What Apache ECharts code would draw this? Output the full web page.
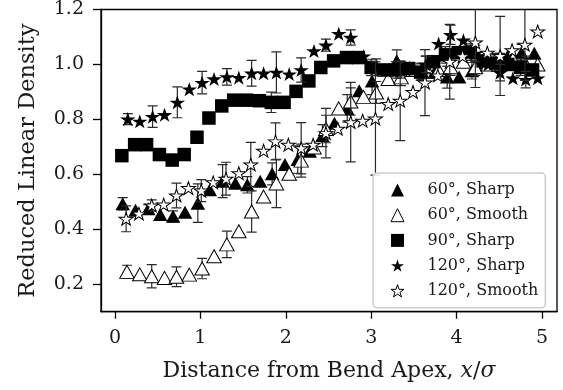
<!DOCTYPE html>
<html><head><meta charset="utf-8">
<script src="https://cdn.jsdelivr.net/npm/echarts@6/dist/echarts.min.js"></script>
<style>html,body{margin:0;padding:0;background:#fff}#c{width:563px;height:390px}</style>
</head><body><div id="c"></div>
<script>
const xTicks = [0, 1, 2, 3, 4, 5];
const yTicks = [0.2, 0.4, 0.6, 0.8, 1.0, 1.2];
const names = ['60°, Sharp', '60°, Smooth', '90°, Sharp', '120°, Sharp', '120°, Smooth'];

const x60Sharp = [0.09,0.24,0.39,0.53,0.68,0.82,0.97,1.11,1.26,1.41,1.55,1.70,1.84,1.99,2.14,2.28,2.43,2.57,2.72,2.86,3.01,3.16,3.30,3.45,3.59,3.74,3.89,4.03,4.18,4.32,4.47,4.61,4.76,4.91];
const y60Sharp = [0.493,0.469,0.475,0.454,0.447,0.462,0.495,0.544,0.575,0.568,0.562,0.575,0.602,0.636,0.654,0.684,0.741,0.786,0.840,0.904,0.940,0.980,1.013,0.990,0.975,0.971,0.954,0.954,0.977,1.005,1.010,1.037,1.043,1.041];
const e60Sharp = [0.022,0,0.015,0,0.02,0,0.07,0,0.06,0,0.03,0,0.04,0,0.05,0,0.04,0,0.05,0,0.05,0,0.04,0,0.03,0,0.04,0,0.03,0,0.03,0,0.03,0];

const x60Smooth = [0.14,0.29,0.43,0.58,0.72,0.87,1.02,1.16,1.31,1.45,1.60,1.74,1.89,2.04,2.18,2.33,2.47,2.62,2.76,2.91,3.06,3.20,3.35,3.49,3.64,3.79,3.93,4.08,4.22,4.37,4.51,4.66,4.81,4.95];
const y60Smooth = [0.245,0.236,0.229,0.223,0.227,0.235,0.257,0.302,0.345,0.393,0.465,0.519,0.567,0.602,0.650,0.698,0.765,0.840,0.865,0.882,0.898,0.947,0.953,0.980,0.990,0.980,0.990,1.010,0.990,1.000,1.010,1.020,1.000,1.000];
const e60Smooth = [0.024,0,0.042,0,0.036,0,0.037,0,0.048,0,0.075,0,0.088,0,0.06,0,0.05,0,0.05,0,0.04,0,0.03,0,0.04,0,0.03,0,0.03,0,0.03,0,0.03,0];

const x90Sharp = [0.08,0.23,0.37,0.52,0.67,0.81,0.96,1.10,1.25,1.39,1.54,1.69,1.83,1.98,2.12,2.27,2.41,2.56,2.71,2.85,3.00,3.14,3.29,3.44,3.58,3.73,3.87,4.02,4.16,4.31,4.46,4.60,4.75,4.89];
const y90Sharp = [0.668,0.708,0.708,0.672,0.652,0.672,0.735,0.805,0.849,0.870,0.870,0.868,0.862,0.862,0.902,0.940,0.989,1.013,1.025,1.025,0.989,0.980,0.980,0.985,0.972,1.010,1.035,1.043,1.045,1.013,1.005,1.000,0.990,0.980];
const e90Sharp = [0.01,0,0.01,0,0.01,0,0.01,0,0.015,0,0.02,0,0.037,0,0.02,0,0.02,0,0.02,0,0.03,0,0.03,0,0.03,0,0.03,0,0.03,0,0.03,0,0.03,0];

const x120Sharp = [0.15,0.29,0.44,0.58,0.73,0.87,1.02,1.16,1.31,1.45,1.60,1.74,1.89,2.04,2.18,2.33,2.47,2.62,2.76,2.91,3.06,3.20,3.35,3.49,3.64,3.79,3.93,4.08,4.22,4.37,4.51,4.66,4.81,4.95];
const y120Sharp = [0.801,0.793,0.810,0.817,0.862,0.910,0.934,0.947,0.955,0.952,0.968,0.968,0.971,0.965,0.980,1.049,1.070,1.112,1.098,1.030,0.990,0.980,0.980,0.980,1.000,1.076,1.108,1.088,1.040,1.000,0.970,0.950,0.945,0.950];
const e120Sharp = [0.02,0,0.039,0,0.056,0,0.041,0,0.03,0,0.047,0,0.075,0,0.044,0,0.022,0,0.028,0,0.03,0,0.03,0,0.03,0,0.035,0,0.03,0,0.03,0,0.03,0];

const x120Smooth = [0.13,0.28,0.43,0.57,0.72,0.86,1.01,1.15,1.30,1.45,1.59,1.74,1.88,2.03,2.18,2.32,2.47,2.61,2.76,2.90,3.05,3.20,3.34,3.49,3.63,3.78,3.92,4.07,4.22,4.36,4.51,4.65,4.80,4.95];
const y120Smooth = [0.438,0.457,0.487,0.490,0.523,0.550,0.541,0.571,0.584,0.604,0.636,0.686,0.720,0.708,0.695,0.708,0.750,0.766,0.790,0.795,0.803,0.856,0.868,0.900,0.934,0.960,1.010,1.030,1.080,1.043,1.031,1.052,1.072,1.120];
const e120Smooth = [0.047,0,0.02,0,0.045,0,0.04,0,0.06,0,0.08,0,0.067,0,0.093,0,0.09,0,0.145,0,0.206,0,0.145,0,0.12,0,0.136,0,0.164,0,0.144,0,0.13,0];

const FONT = 'DejaVu Serif';
const TXT = '#1a1a1a';

function starPath() {
  const pts = [];
  for (let i = 0; i < 10; i++) {
    const a = -Math.PI / 2 + i * Math.PI / 5;
    const r = i % 2 === 0 ? 1 : 0.382;
    pts.push((r * Math.cos(a)).toFixed(4) + ' ' + (r * Math.sin(a)).toFixed(4));
  }
  return 'path://M' + pts.join(' L') + ' Z';
}
const STAR = starPath();

const groups = [
  {name: names[0], x: x60Sharp, y: y60Sharp, e: e60Sharp, symbol: 'triangle', size: [14.5, 13], fill: '#000', leg: 'triangle'},
  {name: names[1], x: x60Smooth, y: y60Smooth, e: e60Smooth, symbol: 'triangle', size: [14.5, 13], fill: '#fff', leg: 'triangle'},
  {name: names[2], x: x90Sharp, y: y90Sharp, e: e90Sharp, symbol: 'rect', size: [13.5, 13.5], fill: '#000', leg: 'rect'},
  {name: names[3], x: x120Sharp, y: y120Sharp, e: e120Sharp, symbol: STAR, size: [15.5, 14.8], fill: '#000', leg: STAR},
  {name: names[4], x: x120Smooth, y: y120Smooth, e: e120Smooth, symbol: STAR, size: [14, 13.3], fill: '#fff', leg: STAR}
];

function errRender(params, api) {
  const x = api.value(0), y = api.value(1), e = api.value(2);
  if (!e) return null;
  const top = api.coord([x, y + e]);
  const bot = api.coord([x, y - e]);
  const w = 5;
  const style = {stroke: '#2a2a2a', lineWidth: 1.2};
  return {type: 'group', children: [
    {type: 'line', shape: {x1: top[0], y1: top[1], x2: bot[0], y2: bot[1]}, style: style},
    {type: 'line', shape: {x1: top[0] - w, y1: top[1], x2: top[0] + w, y2: top[1]}, style: style},
    {type: 'line', shape: {x1: bot[0] - w, y1: bot[1], x2: bot[0] + w, y2: bot[1]}, style: style}
  ]};
}

const series = [];
groups.forEach((g, i) => {
  series.push({
    type: 'custom', name: g.name + ' err', renderItem: errRender, clip: true, silent: true,
    encode: {x: 0, y: 1}, z: 2 + i * 2,
    data: g.x.map((xv, k) => [xv, g.y[k], g.e[k]])
  });
  series.push({
    type: 'scatter', name: g.name, symbol: g.symbol, symbolSize: g.size, symbolKeepAspect: true,
    z: 3 + i * 2, clip: true, silent: true,
    itemStyle: {color: g.fill, borderColor: '#000', borderWidth: g.fill === '#fff' ? 1 : 0, opacity: 1},
    data: g.x.map((xv, k) => [xv, g.y[k]])
  });
});

const legendData = groups.map(g => ({
  name: g.name, icon: g.leg,
  itemStyle: {color: g.fill, borderColor: '#000', borderWidth: g.fill === '#fff' ? 1 : 0}
}));

const chart = echarts.init(document.getElementById('c'), null, {renderer: 'canvas'});
chart.setOption({
  animation: false,
  backgroundColor: '#fff',
  grid: {left: 101, right: 6, top: 8.5, bottom: 78.3, show: true, borderColor: '#000', borderWidth: 1.3, backgroundColor: 'transparent'},
  xAxis: {
    type: 'value', min: -0.164, max: 5.176,
    axisLine: {show: true, onZero: false, lineStyle: {color: '#000', width: 1.3}},
    axisTick: {show: true, inside: false, length: 7, customValues: xTicks, lineStyle: {color: '#000', width: 1.3}},
    axisLabel: {customValues: xTicks, margin: 17, fontFamily: FONT, fontSize: 19, color: TXT, formatter: v => Number(v).toFixed(0)},
    splitLine: {show: false},
    name: 'Distance from Bend Apex, {i|x}/{i|σ}', nameLocation: 'middle', nameGap: 49,
    nameTextStyle: {fontFamily: FONT, fontSize: 22, color: TXT, rich: {i: {fontFamily: FONT, fontSize: 22, fontStyle: 'italic', color: TXT}}}
  },
  yAxis: {
    type: 'value', min: 0.1, max: 1.2,
    axisLine: {show: true, onZero: false, lineStyle: {color: '#000', width: 1.3}},
    axisTick: {show: true, inside: false, length: 8, customValues: yTicks, lineStyle: {color: '#000', width: 1.3}},
    axisLabel: {customValues: yTicks, margin: 17, fontFamily: FONT, fontSize: 19, color: TXT, formatter: v => Number(v).toFixed(1)},
    splitLine: {show: false},
    name: 'Reduced Linear Density', nameLocation: 'middle', nameGap: 61, nameRotate: 90,
    nameTextStyle: {fontFamily: FONT, fontSize: 22.5, color: TXT}
  },
  legend: {
    data: legendData, orient: 'vertical', left: 373, top: 173,
    padding: [9, 7, 9, 17.5], itemWidth: 13, itemHeight: 13, itemGap: 9.2,
    backgroundColor: 'rgba(255,255,255,0.85)', borderColor: '#cccccc', borderWidth: 1.5, borderRadius: 4,
    selectedMode: false, z: 50,
    textStyle: {fontFamily: FONT, fontSize: 16, color: TXT, padding: [0, 0, 0, 18.5], lineHeight: 13}
  },
  series: series
});
</script></body></html>
